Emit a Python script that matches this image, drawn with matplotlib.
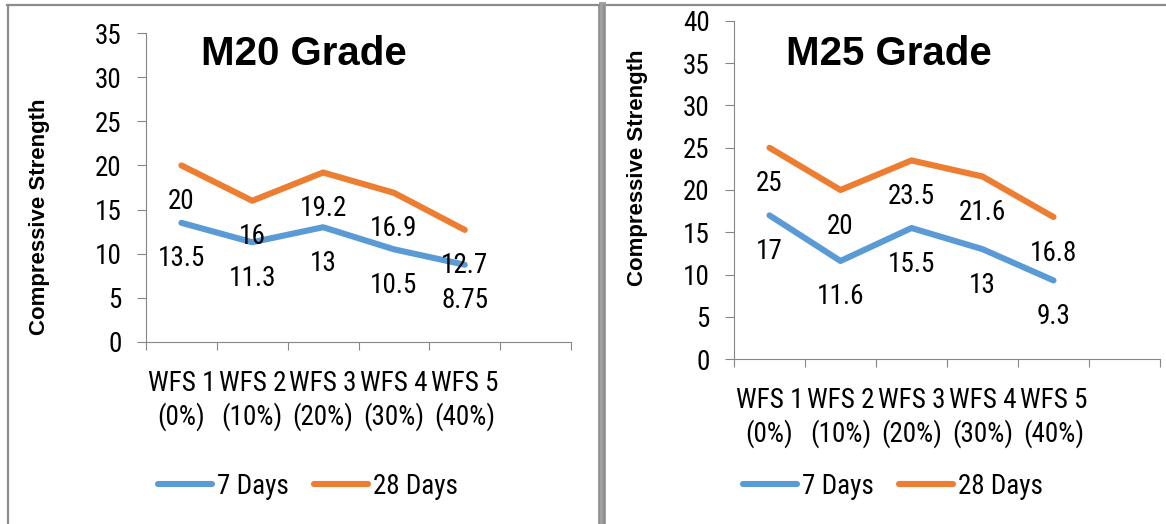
import matplotlib
matplotlib.use("Agg")
import matplotlib.pyplot as plt
from matplotlib.lines import Line2D

# data
categories = ["WFS 1\n(0%)", "WFS 2\n(10%)", "WFS 3\n(20%)", "WFS 4\n(30%)", "WFS 5\n(40%)"]
m20_7days = [13.5, 11.3, 13, 10.5, 8.75]
m20_28days = [20, 16, 19.2, 16.9, 12.7]
m25_7days = [17, 11.6, 15.5, 13, 9.3]
m25_28days = [25, 20, 23.5, 21.6, 16.8]

BLUE = "#5B9BD5"
ORANGE = "#ED7D31"
AXCOL = "#868686"
NARROW = ["Roboto Condensed", "DejaVu Sans"]
FS = 19.5

W, H = 1166, 524
fig = plt.figure(figsize=(W / 100, H / 100), dpi=100)


def px(x, y):
    return x / W, 1 - y / H


def panel(rect, s7, s28, ymax, title, title_xy, ylab_xy, leg_xy):
    ax = fig.add_axes(rect)
    xs = [i + 0.5 for i in range(len(categories))]
    l7, = ax.plot(xs, s7, color=BLUE, lw=4.4, solid_capstyle="round", label="7 Days")
    l28, = ax.plot(xs, s28, color=ORANGE, lw=4.4, solid_capstyle="round", label="28 Days")
    for series in (s7, s28):
        for x, v in zip(xs, series):
            ax.annotate(f"{v:g}", (x, v), xytext=(0, -36), textcoords="offset pixels",
                        ha="center", va="center", fontsize=FS, family=NARROW)
    ax.set_xlim(0, 6)
    ax.set_ylim(0, ymax)
    ax.set_yticks(range(0, ymax + 1, 5))
    ax.set_xticks(xs)
    ax.set_xticklabels(categories, family=NARROW, fontsize=FS, linespacing=1.25)
    ax.set_xticks(range(0, 7), minor=True)
    ax.tick_params(axis="x", which="major", length=0, pad=20)
    ax.tick_params(axis="x", which="minor", length=6, width=0.8, color=AXCOL)
    ax.tick_params(axis="y", length=6.5, width=0.8, color=AXCOL, pad=11, labelsize=FS)
    for lab in ax.get_yticklabels():
        lab.set_family(NARROW)
    for s in ("top", "right"):
        ax.spines[s].set_visible(False)
    for s in ("left", "bottom"):
        ax.spines[s].set_color(AXCOL)
        ax.spines[s].set_linewidth(0.8)
    fig.text(*px(*title_xy), title, ha="center", va="baseline", fontsize=29,
             fontweight="bold", family="Liberation Sans")
    fig.text(*px(*ylab_xy), "Compressive Strength", rotation=90, ha="center", va="center",
             fontsize=16, fontweight="bold", family="Liberation Sans")
    fig.legend(handles=[l7, l28], loc="center", bbox_to_anchor=px(*leg_xy), ncol=2,
               frameon=False, prop={"family": NARROW, "size": FS}, handlelength=2.0,
               handletextpad=0.2, columnspacing=0.9)
    return ax


panel([146 / W, 182 / H, 425 / W, 309 / H], m20_7days, m20_28days, 35,
      "M20 Grade", (304, 65), (40, 217), (308, 486))
panel([734 / W, 165 / H, 426 / W, 338 / H], m25_7days, m25_28days, 40,
      "M25 Grade", (889, 65), (638, 168), (893, 486))

# panel borders
bc = "#8c8c8c"
fig.add_artist(Line2D([7 / W, 1], [1 - 5 / H] * 2, color=bc, lw=1.6))
fig.add_artist(Line2D([8 / W] * 2, [0, 1 - 5 / H], color=bc, lw=1.6))
fig.add_artist(Line2D([601.5 / W] * 2, [0, 1 - 5 / H], color="#a0a0a0", lw=5))
fig.add_artist(Line2D([599 / W] * 2, [0, 1 - 5 / H], color=bc, lw=1.2))
fig.add_artist(Line2D([604 / W] * 2, [0, 1 - 5 / H], color=bc, lw=1.2))

fig.savefig("out.png", dpi=100)
